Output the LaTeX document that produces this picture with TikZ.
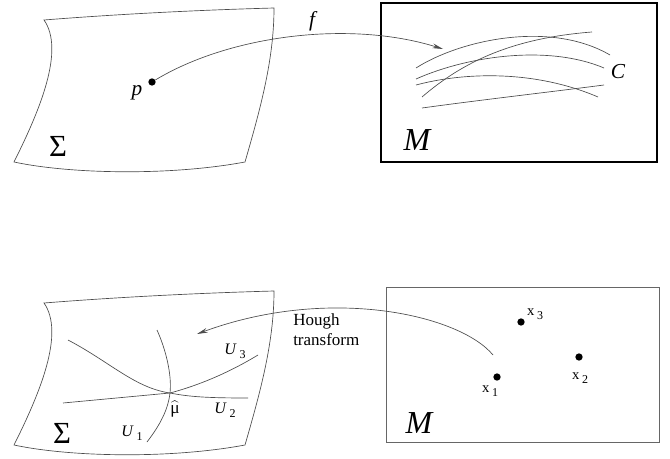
\documentclass[tikz,border=0pt]{standalone}
\usepackage{fontspec}
\setmainfont{Liberation Serif}
\usetikzlibrary{arrows.meta}

\begin{document}
\begin{tikzpicture}[x=0.75pt, y=-0.75pt,
  sheet/.style={black!70, line width=0.5pt},
  arr/.style={black!70, line width=0.5pt, -{Stealth[length=8pt, width=3.5pt]}},
  dot/.style={circle, fill=black, inner sep=0pt, minimum size=5.5pt},
  big/.style={font=\fontsize{23}{23}\selectfont},
  lbl/.style={font=\fontsize{16}{16}\selectfont\itshape},
  sub/.style={font=\fontsize{12}{12}\selectfont}]
  \useasboundingbox (0,0) rectangle (670,459);

  % Both surfaces (same sheet, shifted down)
  \foreach \s in {0,283} {
    \draw[sheet, shift={(0,\s)}] (44,20) .. controls (120,14) and (200,10) .. (274,8)
      .. controls (274,60) and (260,110) .. (245,162)
      .. controls (170,176) and (70,174) .. (14,162)
      .. controls (40,110) and (65,50) .. cycle;
  }

  % TOP: the map f from the surface into M
  \node[big] (sigtop) at (58,146) {Σ};
  \node[dot] (p) at (152,82) {};
  \node[lbl] (plab) at (137,93) {p};
  \draw[black, line width=1pt] (381,3) rectangle (657,162);
  \node[big, font=\fontsize{24}{24}\selectfont\itshape] (mtop) at (417,140) {M};
  \coordinate (ftip) at (443,49);
  \draw[arr] (p) .. controls (230,35) and (350,20) .. (ftip);
  \node[lbl] (flab) at (312,21) {f};

  % Curves in M
  \draw[sheet] (416,68) .. controls (460,40) and (550,20) .. (610,55);
  \draw[sheet] (416,79) .. controls (470,55) and (550,45) .. (604,68);
  \draw[sheet] (416,85) .. controls (465,72) and (535,70) .. (598,97);
  \draw[sheet] (422,97) .. controls (465,60) and (515,38) .. (592,32);
  \draw[sheet] (422,108) .. controls (480,100) and (550,92) .. (604,85);
  \node[lbl] (clab) at (618,72) {C};

  % BOTTOM: Hough transform back onto the surface
  \node[big] (sigbot) at (62,433) {Σ};
  \coordinate (mu) at (170,393);
  \draw[sheet] (68,340) .. controls (110,362) and (135,388) .. (mu)
    .. controls (190,397) and (210,398) .. (248,398);
  \draw[sheet] (63,403) -- (mu) .. controls (200,385) and (230,372) .. (258,355);
  \draw[sheet] (157,330) .. controls (166,350) and (172,375) .. (mu)
    .. controls (168,410) and (160,425) .. (147,442);
  \node[inner sep=0pt] (mulab) at (175,409) {$\widehat{\mbox{\fontsize{13}{13}\selectfont μ}}$};
  \node[sub] (u1) at (132,433) {\textit{U}\hspace{2pt}\raisebox{-3pt}{\fontsize{9}{9}\selectfont 1}};
  \node[sub] (u2) at (225,410) {\textit{U}\hspace{2pt}\raisebox{-3pt}{\fontsize{9}{9}\selectfont 2}};
  \node[sub] (u3) at (235,351) {\textit{U}\hspace{2pt}\raisebox{-3pt}{\fontsize{9}{9}\selectfont 3}};

  \draw[black!60, line width=0.6pt] (386,287) rectangle (659,442);
  \node[big, font=\fontsize{24}{24}\selectfont\itshape] (mbot) at (419,423) {M};
  \node[dot] (x1) at (497,377) {};
  \node[dot] (x2) at (579,357) {};
  \node[dot] (x3) at (521,322) {};
  \node[font=\fontsize{11}{11}\selectfont] (x1lab) at (490,391) {x\hspace{2pt}\raisebox{-3pt}{\fontsize{9}{9}\selectfont 1}};
  \node[font=\fontsize{11}{11}\selectfont] (x2lab) at (580,378) {x\hspace{2pt}\raisebox{-3pt}{\fontsize{9}{9}\selectfont 2}};
  \node[font=\fontsize{11}{11}\selectfont] (x3lab) at (535,314) {x\hspace{2pt}\raisebox{-3pt}{\fontsize{9}{9}\selectfont 3}};

  \coordinate (hstart) at (493,355);
  \coordinate (htip) at (197,334);
  \draw[arr] (hstart) .. controls (460,315) and (330,285) .. (htip);
  \node[font=\fontsize{12.75}{15}\selectfont, align=left, anchor=west, inner sep=0pt] (hough) at (293,330) {Hough\\transform};
\end{tikzpicture}
\end{document}
